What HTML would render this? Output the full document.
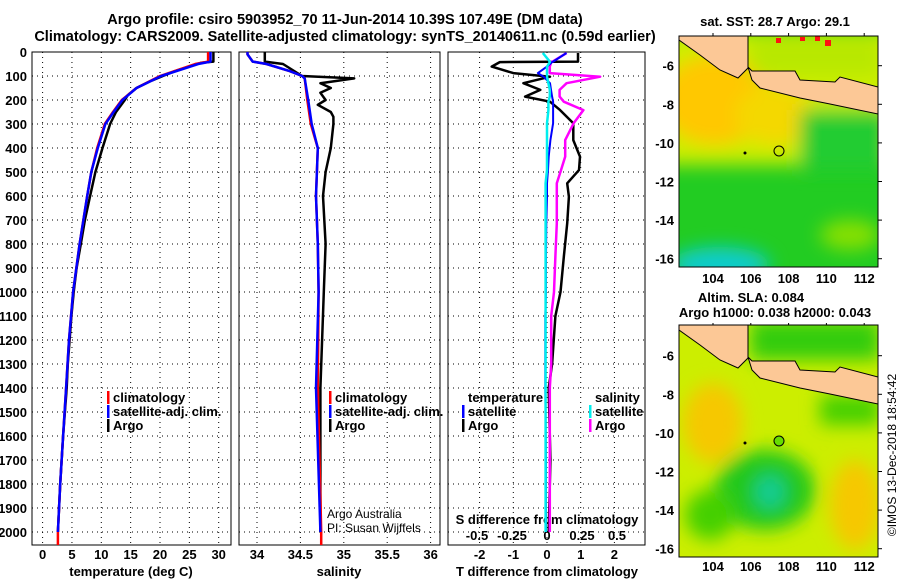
<!DOCTYPE html>
<html><head><meta charset="utf-8"><style>
body{margin:0;background:#fff;}
svg{display:block;font-family:"Liberation Sans",sans-serif;}
.b{font-weight:bold;font-size:13px;}
</style></head><body>
<svg id="s" width="900" height="580" viewBox="0 0 900 580">
<defs>
<filter id="bl" x="-50%" y="-50%" width="200%" height="200%"><feGaussianBlur stdDeviation="9"/></filter>
<clipPath id="c1"><rect x="679" y="36" width="199" height="231"/></clipPath>
<clipPath id="c2"><rect x="679" y="325" width="199" height="232"/></clipPath>
<clipPath id="p1"><rect x="32" y="52" width="199" height="493"/></clipPath>
<clipPath id="p2"><rect x="239" y="52" width="201" height="493"/></clipPath>
<clipPath id="p3"><rect x="448" y="52" width="197" height="493"/></clipPath>
</defs>
<text x="345" y="24" text-anchor="middle" font-size="14.5" font-weight="bold">Argo profile: csiro 5903952_70 11-Jun-2014 10.39S 107.49E (DM data)</text>
<text x="345" y="41" text-anchor="middle" font-size="14.5" font-weight="bold">Climatology: CARS2009. Satellite-adjusted climatology: synTS_20140611.nc (0.59d earlier)</text>
<g id="g"></g>
<!-- maps -->
<g clip-path="url(#c1)">
<rect x="679" y="36" width="199" height="231" fill="#22cc22"/>
<g filter="url(#bl)">
<rect x="660" y="30" width="240" height="135" fill="#ccee00"/>
<ellipse cx="715" cy="100" rx="55" ry="45" fill="#ffc800"/>
<ellipse cx="775" cy="115" rx="40" ry="30" fill="#f4d800"/>
<rect x="800" y="110" width="90" height="60" fill="#22cc33"/>
<ellipse cx="720" cy="265" rx="50" ry="18" fill="#11cccc"/>
<ellipse cx="850" cy="235" rx="30" ry="15" fill="#88e000"/>
<rect x="750" y="36" width="130" height="40" fill="#b8e800"/>
</g>
<rect x="815" y="36" width="5" height="5" fill="#ff1111"/><rect x="825" y="40" width="6" height="6" fill="#ff1111"/><rect x="776" y="38" width="5" height="5" fill="#ff1111"/><rect x="800" y="37" width="5" height="4" fill="#ff1111"/>
<path d="M679,36 L748,36 L748,68 L738,78 L720,70 L700,55 L679,40 Z" fill="#fcc896" stroke="#000"/>
<path d="M748,67 L752,80 L760,88 L800,98 L830,104 L878,114 L878,87 L840,77 L835,82 L800,80 L795,71 L752,71 Z" fill="#fcc896" stroke="#000"/>
<circle cx="779" cy="151" r="5" fill="none" stroke="#000"/><circle cx="745" cy="153" r="1.5" fill="#000"/>
</g>
<rect x="679" y="36" width="199" height="231" fill="none" stroke="#000"/>
<text x="775" y="26" text-anchor="middle" class="b">sat. SST: 28.7 Argo: 29.1</text>
<g clip-path="url(#c2)">
<rect x="679" y="325" width="199" height="232" fill="#ccee00"/>
<g filter="url(#bl)">
<rect x="750" y="320" width="130" height="40" fill="#33cc11"/>
<ellipse cx="713" cy="423" rx="30" ry="40" fill="#f6c800"/>
<ellipse cx="855" cy="505" rx="25" ry="45" fill="#f6c800"/>
<ellipse cx="765" cy="490" rx="50" ry="40" fill="#22c81c"/>
<ellipse cx="710" cy="515" rx="25" ry="25" fill="#44d000"/>
<ellipse cx="770" cy="492" rx="14" ry="16" fill="#11cc99"/>
<rect x="820" y="395" width="60" height="30" fill="#44d000"/>
</g>
<path d="M679,325 L748,325 L748,358 L738,368 L720,360 L700,345 L679,330 Z" fill="#fcc896" stroke="#000"/>
<path d="M748,357 L752,370 L760,378 L800,388 L830,394 L878,404 L878,377 L840,367 L835,372 L800,370 L795,361 L752,361 Z" fill="#fcc896" stroke="#000"/>
<circle cx="779" cy="441" r="5" fill="#66dd00" stroke="#000"/><circle cx="745" cy="443" r="1.5" fill="#000"/>
</g>
<rect x="679" y="325" width="199" height="232" fill="none" stroke="#000"/>
<text x="751" y="302" text-anchor="middle" class="b">Altim. SLA: 0.084</text>
<text x="775" y="317" text-anchor="middle" class="b">Argo h1000: 0.038 h2000: 0.043</text>
<text transform="translate(896,455) rotate(-90)" text-anchor="middle" font-size="12">©IMOS 13-Dec-2018 18:54:42</text>
</svg>
<script>
// data
const depthsT=[0,40,45,60,80,100,120,150,180,200,250,300,400,500,600,700,800,900,1000,1100,1200,1300,1400,1600,1800,2000];
const argoT=[29.1,29.1,27,25,22.5,20.5,18.5,16,14.5,14.0,12.5,11.5,10.2,9.0,8.1,7.2,6.5,5.8,5.3,4.9,4.6,4.3,4.1,3.5,3.0,2.6];
const depthsC=[0,40,50,100,150,200,250,300,400,500,600,800,1000,1200,1400,1600,1800,2000,2055];
const climT=[28.2,28.2,26,20,16,13.5,12,10.6,9.3,8.3,7.6,6.3,5.2,4.5,4.0,3.5,3.0,2.6,2.6];
const satT=[28.6,28.6,26.5,20.2,16,13.6,12.1,10.7,9.4,8.3,7.6,6.3,5.2,4.5,4.0,3.5,3.0,2.6,2.6];
const depthsS=[0,10,40,50,80,100,110,200,300,400,500,600,800,1000,1400,2000,2055];
const climS=[33.89,33.89,33.95,34.11,34.38,34.52,34.55,34.58,34.62,34.70,34.69,34.68,34.70,34.71,34.70,34.74,34.74];
const satS=[33.89,33.89,33.95,34.11,34.38,34.52,34.55,34.59,34.63,34.70,34.69,34.68,34.70,34.71,34.68,34.73,34.73];
const depthsAS=[0,40,50,100,110,130,150,170,200,220,250,270,300,400,500,600,800,1000,1400,2000];
const argoS=[34.09,34.09,34.30,34.52,35.12,34.73,34.85,34.73,34.79,34.70,34.85,34.88,34.88,34.85,34.79,34.76,34.79,34.77,34.73,34.73];
const depthsD=[4,40,42,61,88,103,130,158,186,207,242,297,367,436,492,547,603,714,850,1000,1100,1300,1400,1700,2000];
const diffTArgo=[0.92,0.92,-1.4,-1.64,-1.0,0.09,-0.7,-0.2,-0.65,0.09,0.39,0.78,0.78,0.98,0.95,0.6,0.65,0.6,0.5,0.4,0.25,0.15,0.05,0.1,0.05];
const diffSArgo=[0.14,0.04,0.03,0.02,0.02,0.38,0.14,0.09,0.09,0.12,0.26,0.19,0.13,0.13,0.1,0.07,0.07,0.07,0.06,0.05,0.03,0.03,0.02,0.02,0.02];
const diffTSat=[0.58,0.18,0.15,0.0,-0.27,-0.1,0.09,0.12,0.15,0.18,0.18,0.18,0.1,0.05,0.03,0.0,0.0,-0.02,-0.03,-0.03,-0.05,-0.05,-0.05,-0.03,-0.03];
const diffSSat=[-0.03,0.02,0.02,0.0,0.0,0.0,0.01,0.02,0.02,0.01,0.01,0.0,0.0,0.0,0.0,-0.01,-0.01,-0.01,-0.01,-0.01,-0.01,-0.01,-0.01,-0.01,-0.01];
const depthTicks=[0,100,200,300,400,500,600,700,800,900,1000,1100,1200,1300,1400,1500,1600,1700,1800,1900,2000];
const tTicks=[0,5,10,15,20,25,30];
const sTicks=[34,34.5,35,35.5,36];
const dTTicks=[-2,-1,0,1,2];
const dSTicks=[-0.5,-0.25,0,0.25,0.5];
const lonTicks=[104,106,108,110,112];
const latTicks=[-6,-8,-10,-12,-14,-16];

const NS='http://www.w3.org/2000/svg';
const G=document.getElementById('g');
function mk(t,a,txt,parent){const e=document.createElementNS(NS,t);for(const k in a)e.setAttribute(k,a[k]);if(txt!==undefined)e.textContent=txt;(parent||G).appendChild(e);return e;}
const yD=d=>52+d*0.24;
const xT=v=>42.6+v*5.87;
const xS=v=>257+(v-34)*86.8;
const xDT=v=>547+v*33.7;
const xDS=v=>547+v*140;
const lonX=l=>713+(l-104)*18.9;
const latY=l=>65.7+(-6-l)*19.3;

const panels=[[32,231,'temperature-panel','p1'],[239,440,'salinity-panel','p2'],[448,645,'difference-panel','p3']];
panels.forEach((p,i)=>{
  const fr=mk('rect',{x:p[0],y:52,width:p[1]-p[0],height:493,fill:'none',stroke:'#000','stroke-width':1});
  
  
  depthTicks.forEach(d=>{
    const gl=mk('line',{x1:p[0],x2:p[1],y1:yD(d),y2:yD(d),stroke:'#000','stroke-dasharray':'1,4'});
    
    
    if(i===0){const t=mk('text',{x:27,y:yD(d)+5,'text-anchor':'end',class:'b'},String(d));
      
      }
  });
});
function vgrid(ticks,fx,x0,x1){ticks.forEach(v=>{const x=fx(v);if(x>x0&&x<x1){const l=mk('line',{x1:x,x2:x,y1:52,y2:545,stroke:'#000','stroke-dasharray':'1,4'});
  
  }});}
vgrid(tTicks,xT,32,231);vgrid(sTicks,xS,239,440);vgrid(dTTicks,xDT,448,645);
function xlabels(ticks,fx,y,cls){ticks.forEach(v=>{const t=mk('text',{x:fx(v),y:y,'text-anchor':'middle',class:cls||'b'},String(v));
  
  });}
xlabels(tTicks,xT,559);xlabels(sTicks,xS,559);xlabels(dTTicks,xDT,559);
dSTicks.forEach(v=>{const t=mk('text',{x:xDS(v),y:540,'text-anchor':'middle',class:'b'},String(v));
  
  });
[['temperature (deg C)',131,'temperature-axis-title'],['salinity',339,'salinity-axis-title'],['T difference from climatology',547,'t-diff-axis-title']].forEach(a=>{
  const t=mk('text',{x:a[1],y:576,'text-anchor':'middle',class:'b'},a[0]);
  
  });
const st=mk('text',{x:547,y:524,'text-anchor':'middle',class:'b'},'S difference from climatology');



function line(ds,vs,fx,col,clip,name,w){
  const pts=ds.map((d,i)=>fx(vs[i]).toFixed(1)+','+yD(d).toFixed(1)).join(' ');
  const l=mk('polyline',{points:pts,fill:'none',stroke:col,'stroke-width':w||2.5,'clip-path':'url(#'+clip+')','stroke-linejoin':'round'});
  
  
}
line(depthsT,argoT,xT,'#000','p1','argo-temperature-line');
line(depthsC,climT,xT,'#ff0000','p1','climatology-temperature-line');
line(depthsC.slice(0,-1),satT.slice(0,-1),xT,'#0000ff','p1','satellite-temperature-line');
line(depthsAS,argoS,xS,'#000','p2','argo-salinity-line');
line(depthsS,climS,xS,'#ff0000','p2','climatology-salinity-line');
line(depthsS.slice(0,-1),satS.slice(0,-1),xS,'#0000ff','p2','satellite-salinity-line');
line(depthsD,diffTArgo,xDT,'#000','p3','argo-t-diff-line');
line(depthsD,diffSArgo,xDS,'#ff00ff','p3','argo-s-diff-line');
line(depthsD,diffTSat,xDT,'#0000ff','p3','satellite-t-diff-line',2);
line(depthsD,diffSSat,xDS,'#00eeee','p3','satellite-s-diff-line');

function leg(x,y,col,txt,name){
  const r=mk('rect',{x:x,y:y-11,width:2.5,height:13,fill:col});
  
  
  const t=mk('text',{x:x+6,y:y,class:'b','font-weight':'normal'},txt);
  
  
}
leg(107,402,'#ff0000','climatology','legend-climatology-t');
leg(107,416,'#0000ff','satellite-adj. clim.','legend-satellite-t');
leg(107,430,'#000','Argo','legend-argo-t');
leg(329,402,'#ff0000','climatology','legend-climatology-s');
leg(329,416,'#0000ff','satellite-adj. clim.','legend-satellite-s');
leg(329,430,'#000','Argo','legend-argo-s');
const lt=mk('text',{x:468,y:402,class:'b','font-weight':'normal'},'temperature');


const ls=mk('text',{x:595,y:402,class:'b','font-weight':'normal'},'salinity');


leg(462,416,'#0000ff','satellite','legend-satellite-tdiff');
leg(462,430,'#000','Argo','legend-argo-tdiff');
leg(589,416,'#00eeee','satellite','legend-satellite-sdiff');
leg(589,430,'#ff00ff','Argo','legend-argo-sdiff');
const a1=mk('text',{x:327,y:518,'font-size':'12'},'Argo Australia');


const a2=mk('text',{x:327,y:532,'font-size':'12'},'PI: Susan Wijffels');



// map axes
[[0,283],[290,571]].forEach(m=>{
  lonTicks.forEach(l=>{const t=mk('text',{x:lonX(l),y:m[1],'text-anchor':'middle',class:'b'},String(l));
    
    
    const tk=mk('line',{x1:lonX(l),x2:lonX(l),y1:36+m[0]-3,y2:36+m[0],stroke:'#000'});
    
    });
  latTicks.forEach(l=>{const t=mk('text',{x:674,y:latY(l)+m[0]+5,'text-anchor':'end',class:'b'},String(l));
    
    
    const tk=mk('line',{x1:878,x2:882,y1:latY(l)+m[0],y2:latY(l)+m[0],stroke:'#000'});
    
    });
});
</script>
</body></html>
